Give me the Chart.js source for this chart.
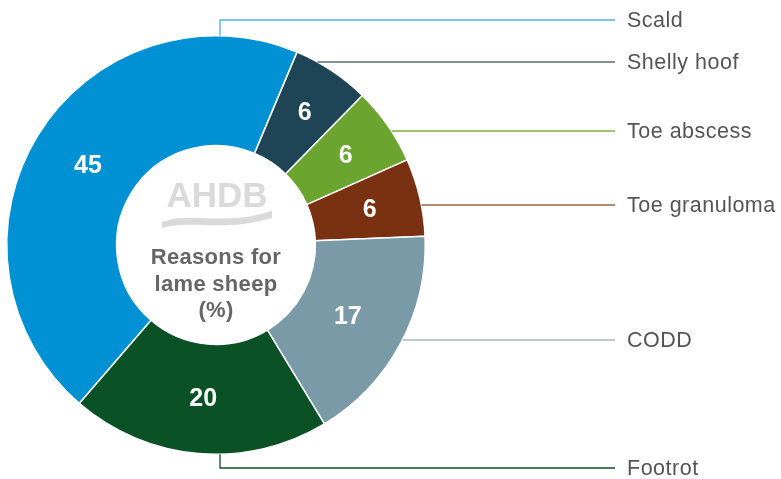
<!DOCTYPE html>
<html>
<head>
<meta charset="utf-8">
<script src="https://cdn.jsdelivr.net/npm/chart.js@4.4.1/dist/chart.umd.min.js"></script>
<style>
html,body{margin:0;padding:0;background:#fff;}
#wrap{width:781px;height:479px;position:relative;}
</style>
</head>
<body>
<div id="wrap"><canvas id="c" width="781" height="479"></canvas></div>
<script>
const categories = ["Scald", "Shelly hoof", "Toe abscess", "Toe granuloma", "CODD", "Footrot"];
const values = [45, 6, 6, 6, 17, 20];
const colors = ["#0090d4", "#1f4455", "#6ba42f", "#7a3112", "#7a9aa8", "#0a5126"];
const lineColors = ["#4db0e6", "#5b6f78", "#7db043", "#a0603f", "#a7b9c3", "#0a5126"];
const centerTitle = ["Reasons for", "lame sheep", "(%)"];
const logoText = "AHDB";

// layout: y of each leader line, elbow flag, value-label radius factor
const leaderY = [20, 62, 131, 205, 340, 468];
const elbow = [true, false, false, false, false, true];
const labelRadius = [0.72, 0.765, 0.755, 0.755, 0.715, 0.735];

const leaderPlugin = {
  id: 'leaders',
  afterDatasetsDraw(chart) {
    const ctx = chart.ctx;
    const meta = chart.getDatasetMeta(0);
    const lineEndX = 615, textX = 627;
    meta.data.forEach((arc, i) => {
      const p = arc.getProps(['x','y','startAngle','endAngle','innerRadius','outerRadius']);
      const cx = p.x, cy = p.y, R = p.outerRadius;
      const mid = (p.startAngle + p.endAngle) / 2;
      const lr = R * labelRadius[i];
      ctx.save();
      ctx.fillStyle = '#ffffff';
      ctx.font = 'bold 25px "Liberation Sans", Arial, sans-serif';
      ctx.textAlign = 'center';
      ctx.textBaseline = 'middle';
      ctx.fillText(String(values[i]), cx + Math.cos(mid) * lr, cy + Math.sin(mid) * lr + 1);
      ctx.restore();

      const y = leaderY[i];
      ctx.save();
      ctx.strokeStyle = lineColors[i];
      ctx.lineWidth = 1.3;
      ctx.beginPath();
      if (elbow[i]) {
        const ax = cx + 4;
        const ay = y < cy ? cy - Math.sqrt(R*R - 16) : cy + Math.sqrt(R*R - 16);
        ctx.moveTo(ax, ay);
        ctx.lineTo(ax, y);
        ctx.lineTo(lineEndX, y);
      } else {
        const dy = y - cy;
        const ax = cx + Math.sqrt(Math.max(0, R*R - dy*dy));
        ctx.moveTo(ax, y);
        ctx.lineTo(lineEndX, y);
      }
      ctx.stroke();
      ctx.restore();

      ctx.save();
      ctx.fillStyle = '#555555';
      ctx.font = '21.5px "Liberation Sans", Arial, sans-serif';
      ctx.letterSpacing = '0.5px';
      ctx.textAlign = 'left';
      ctx.textBaseline = 'middle';
      ctx.fillText(categories[i], textX, y + 1);
      ctx.restore();
    });

    const a0 = meta.data[0];
    const cx = a0.x, cy = a0.y;
    ctx.save();
    ctx.fillStyle = '#dadada';
    ctx.font = 'bold 35px "Liberation Sans", Arial, sans-serif';
    ctx.textAlign = 'center';
    ctx.textBaseline = 'alphabetic';
    ctx.fillText(logoText, cx + 1, cy - 38);
    ctx.beginPath();
    ctx.moveTo(cx - 54, cy - 23);
    ctx.bezierCurveTo(cx - 25, cy - 34, cx + 5, cy - 18, cx + 56, cy - 34);
    ctx.lineTo(cx + 56, cy - 27);
    ctx.bezierCurveTo(cx + 5, cy - 12, cx - 25, cy - 26, cx - 54, cy - 17);
    ctx.closePath();
    ctx.fill();
    ctx.fillStyle = '#666666';
    ctx.font = 'bold 22px "Liberation Sans", Arial, sans-serif';
    ctx.letterSpacing = '0.3px';
    ctx.textBaseline = 'middle';
    centerTitle.forEach((t, k) => ctx.fillText(t, cx, cy + 13 + k * 26.5));
    ctx.restore();
  }
};

new Chart(document.getElementById('c'), {
  type: 'doughnut',
  data: {
    labels: categories,
    datasets: [{
      data: values,
      backgroundColor: colors,
      borderColor: '#ffffff',
      borderWidth: 1.5,
      hoverOffset: 0
    }]
  },
  options: {
    responsive: false,
    animation: false,
    rotation: -139.2,
    cutout: '47.5%',
    layout: { padding: { left: 6, right: 355, top: 35, bottom: 24 } },
    plugins: { legend: { display: false }, tooltip: { enabled: false } }
  },
  plugins: [leaderPlugin]
});
</script>
</body>
</html>
